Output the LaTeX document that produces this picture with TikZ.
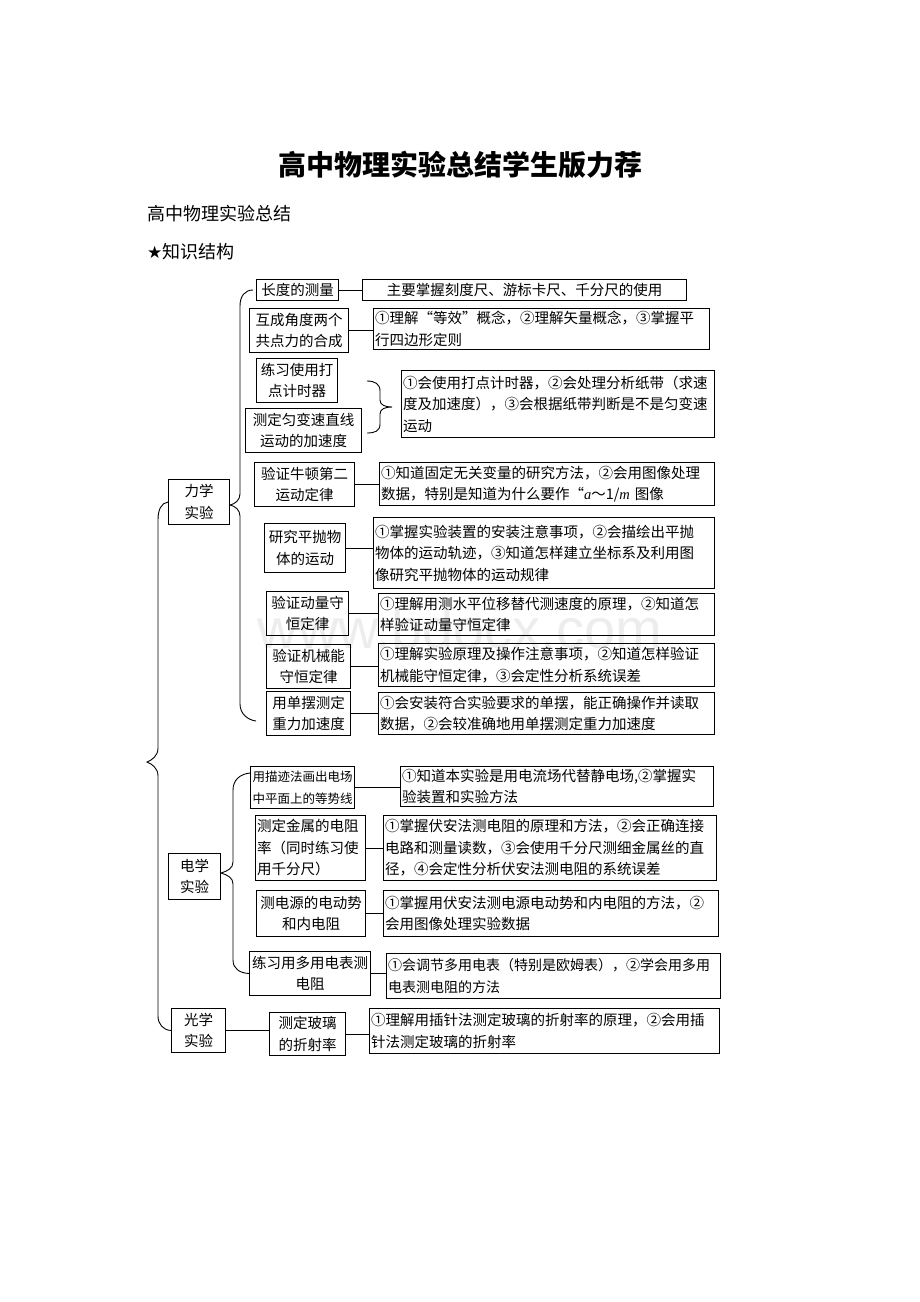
\documentclass[tikz,border=0pt]{standalone}
\usepackage{fontspec}
\setmainfont{Liberation Serif}
\setsansfont{Liberation Sans}
\newfontfamily\cjk{Noto Sans CJK SC}
\newfontfamily\sym{DejaVu Sans}
\usetikzlibrary{calc}
\begin{document}
\begin{tikzpicture}[x=1pt,y=-1pt,
  bx/.style={draw, line width=1pt, inner xsep=1.5pt, inner ysep=0pt, anchor=north west,
    font=\cjk\fontsize{14.5}{21.5}\selectfont},
  ln/.style={line width=1pt},
  br/.style={line width=0.9pt}]
\useasboundingbox (0,0) rectangle (920,1302);
% watermark
\node[font=\sffamily\fontsize{56}{60}\selectfont, text=black!7] (wm) at (460,628) {www.bdocx.com};
% header
\node[font=\cjk\bfseries\fontsize{28}{32}\selectfont, inner sep=0] (title) at (460,165) {高中物理实验总结学生版力荐};
\node[anchor=west, inner sep=0, font=\cjk\fontsize{18}{20}\selectfont] (sub) at (147,214) {高中物理实验总结};
\node[anchor=west, inner sep=0, font=\cjk\fontsize{18}{20}\selectfont] (ks) at (147,252) {{\sym\fontsize{17}{20}\selectfont ★}知识结构};
% mechanics labels
\node[bx, align=center, minimum width=82pt, minimum height=21pt, text width=79pt] (chang) at (256,279) {长度的测量};
\node[bx, align=center, minimum width=99pt, minimum height=44pt, text width=96pt] (hucheng) at (249,308) {互成角度两个\\共点力的合成};
\node[bx, align=center, minimum width=81pt, minimum height=44pt, text width=78pt] (lianxi) at (256,358) {练习使用打\\点计时器};
\node[bx, align=center, minimum width=116pt, minimum height=44pt, text width=113pt] (ceding) at (245,408) {测定匀变速直线\\运动的加速度};
\node[bx, align=center, minimum width=100pt, minimum height=44pt, text width=97pt] (niudun) at (254,462) {验证牛顿第二\\运动定律};
\node[bx, align=center, minimum width=81pt, minimum height=49pt, text width=78pt] (pingpao) at (264,523) {研究平抛物\\体的运动};
\node[bx, align=center, minimum width=82pt, minimum height=44pt, text width=79pt] (dongliang) at (266,591) {验证动量守\\恒定律};
\node[bx, align=center, minimum width=84pt, minimum height=44pt, text width=81pt] (jixie) at (266,644) {验证机械能\\守恒定律};
\node[bx, align=center, minimum width=84pt, minimum height=44pt, text width=81pt] (danbai) at (266,691) {用单摆测定\\重力加速度};
\node[bx, align=center, minimum width=61pt, minimum height=45pt, text width=58pt] (lixue) at (168,479) {力学\\实验};
% electricity labels
\node[bx, align=center, minimum width=104pt, minimum height=42pt, text width=101pt, font=\cjk\fontsize{12.5}{21.5}\selectfont] (miaoji) at (250,766) {用描迹法画出电场\\中平面上的等势线};
\node[bx, align=left, minimum width=110pt, minimum height=65pt, text width=107pt] (jinshu) at (255,815) {测定金属的电阻\\率（同时练习使\\用千分尺）};
\node[bx, align=center, minimum width=109pt, minimum height=46pt, text width=106pt] (dianyuan) at (256,890) {测电源的电动势\\和内电阻};
\node[bx, align=center, minimum width=121pt, minimum height=44pt, text width=118pt] (duoyong) at (249,951) {练习用多用电表测\\电阻};
\node[bx, align=center, minimum width=52pt, minimum height=46pt, text width=49pt] (dianxue) at (168,853) {电学\\实验};
% optics
\node[bx, align=center, minimum width=54pt, minimum height=44pt, text width=51pt] (guangxue) at (171,1008) {光学\\实验};
\node[bx, align=center, minimum width=76pt, minimum height=43pt, text width=73pt] (boli) at (269,1012) {测定玻璃\\的折射率};
% descriptions
\node[bx, align=center, minimum width=324pt, minimum height=21pt, text width=321pt] (d1) at (362,279) {主要掌握刻度尺、游标卡尺、千分尺的使用};
\node[bx, align=left, minimum width=336pt, minimum height=41pt, text width=333pt] (d2) at (373,308) {①理解“等效”概念，②理解矢量概念，③掌握平\\行四边形定则};
\node[bx, align=left, minimum width=313pt, minimum height=67pt, text width=310pt] (d3) at (401,370) {①会使用打点计时器，②会处理分析纸带（求速\\度及加速度），③会根据纸带判断是不是匀变速\\运动};
\node[bx, align=left, minimum width=335pt, minimum height=43pt, text width=332pt] (d4) at (379,462) {①知道固定无关变量的研究方法，②会用图像处理\\数据，特别是知道为什么要作“{\rmfamily\itshape a}～1/{\rmfamily\itshape m} 图像};
\node[bx, align=left, minimum width=341pt, minimum height=71pt, text width=338pt] (d5) at (373,517) {①掌握实验装置的安装注意事项，②会描绘出平抛\\物体的运动轨迹，③知道怎样建立坐标系及利用图\\像研究平抛物体的运动规律};
\node[bx, align=left, minimum width=336pt, minimum height=42pt, text width=333pt] (d6) at (378,593) {①理解用测水平位移替代测速度的原理，②知道怎\\样验证动量守恒定律};
\node[bx, align=left, minimum width=336pt, minimum height=43pt, text width=333pt] (d7) at (378,643) {①理解实验原理及操作注意事项，②知道怎样验证\\机械能守恒定律，③会定性分析系统误差};
\node[bx, align=left, minimum width=336pt, minimum height=42pt, text width=333pt] (d8) at (378,692) {①会安装符合实验要求的单摆，能正确操作并读取\\数据，②会较准确地用单摆测定重力加速度};
\node[bx, align=left, minimum width=313pt, minimum height=40pt, text width=310pt] (d9) at (400,766) {①知道本实验是用电流场代替静电场,②掌握实\\验装置和实验方法};
\node[bx, align=left, minimum width=333pt, minimum height=65pt, text width=330pt] (d10) at (383,815) {①掌握伏安法测电阻的原理和方法，②会正确连接\\电路和测量读数，③会使用千分尺测细金属丝的直\\径，④会定性分析伏安法测电阻的系统误差};
\node[bx, align=left, minimum width=335pt, minimum height=46pt, text width=332pt] (d11) at (383,890) {①掌握用伏安法测电源电动势和内电阻的方法，②\\会用图像处理实验数据};
\node[bx, align=left, minimum width=334pt, minimum height=45pt, text width=331pt, font=\cjk\fontsize{14}{21.5}\selectfont] (d12) at (386,953) {①会调节多用电表（特别是欧姆表），②学会用多用\\电表测电阻的方法};
\node[bx, align=left, minimum width=350pt, minimum height=45pt, text width=347pt] (d13) at (369,1008) {①理解用插针法测定玻璃的折射率的原理，②会用插\\针法测定玻璃的折射率};
% connectors
\foreach \a/\b in {chang/d1, hucheng/d2, niudun/d4, pingpao/d5, dongliang/d6, jixie/d7, danbai/d8,
                   miaoji/d9, jinshu/d10, dianyuan/d11, duoyong/d12, guangxue/boli, boli/d13}
  \draw[ln] (\a.east) -- (\a.east -| \b.west);
% brace for the two timer experiments
\coordinate (b3a) at (367,381);
\coordinate (b3tip) at (392,407);
\coordinate (b3b) at (367,433);
\draw[br] (b3a) .. controls (375,381) and (380,384) .. (380,391) -- (380,400)
  .. controls (380,405) and (385,407) .. (b3tip)
  .. controls (385,407) and (380,409) .. (380,414) -- (380,424)
  .. controls (380,431) and (375,433) .. (b3b);
% mechanics brace
\coordinate (ltop) at (253,290);
\coordinate (ltip) at (230,505);
\coordinate (lbot) at (256,721);
\draw[br] (ltop) .. controls (245,290) and (240,296) .. (240,306) -- (240,494)
  .. controls (240,500) and (235,504) .. (ltip)
  .. controls (235,506) and (240,510) .. (240,516) -- (240,704)
  .. controls (240,714) and (248,720) .. (lbot);
% electricity brace
\coordinate (etop) at (250,773);
\coordinate (etip) at (221,873);
\draw[br] (etop) .. controls (240,774) and (233,780) .. (233,790) -- (233,862)
  .. controls (233,868) and (228,871) .. (etip)
  .. controls (228,875) and (233,878) .. (233,884) -- (233,960)
  .. controls (233,969) and (240,973) .. (duoyong.west);
% outer brace
\coordinate (otip) at (147,762);
\draw[br] (lixue.west) .. controls (161,503) and (158,510) .. (158,520) -- (158,748)
  .. controls (158,756) and (152,760) .. (otip)
  .. controls (152,764) and (158,768) .. (158,776) -- (158,1016)
  .. controls (158,1024) and (163,1030) .. (guangxue.west);
\end{tikzpicture}
\end{document}
